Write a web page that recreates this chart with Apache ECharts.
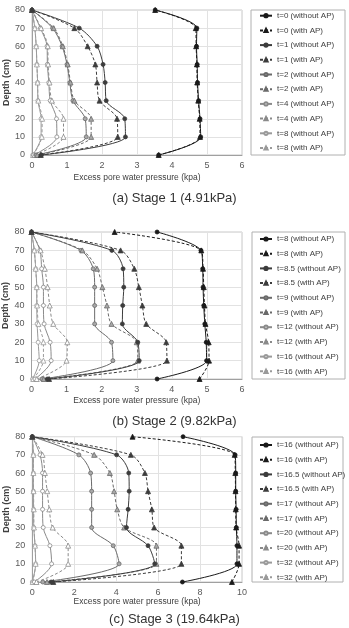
<!DOCTYPE html>
<html><head><meta charset="utf-8">
<script src="https://cdn.jsdelivr.net/npm/echarts@6/dist/echarts.min.js"></script>
<style>html,body{margin:0;padding:0;background:#fff}#c{width:349px;height:628px}</style>
</head><body><div id="c"></div>
<script>
// Depth (cm) of every measured point
const depths = [0, 10, 20, 30, 40, 50, 60, 70, 80];

// Stage 1 (4.91 kPa) – excess pore water pressure (kPa), depth 0..80
const s1Names = ['t=0 (without AP)','t=0 (with AP)','t=1 (without AP)','t=1 (with AP)','t=2 (without AP)','t=2 (with AP)','t=4 (without AP)','t=4 (with AP)','t=8 (without AP)','t=8 (with AP)'];
const s1_t0_wo = [3.62, 4.82, 4.80, 4.76, 4.73, 4.72, 4.70, 4.71, 3.52];
const s1_t0_w  = [3.62, 4.80, 4.79, 4.75, 4.72, 4.71, 4.69, 4.68, 3.52];
const s1_t1_wo = [0.27, 2.67, 2.65, 2.12, 2.09, 2.03, 1.86, 1.35, 0];
const s1_t1_w  = [0.25, 2.45, 2.43, 1.93, 1.86, 1.81, 1.59, 1.21, 0];
const s1_t2_wo = [0.12, 1.55, 1.52, 1.17, 1.08, 1.00, 0.86, 0.59, 0];
const s1_t2_w  = [0.15, 1.69, 1.69, 1.21, 1.10, 1.02, 0.88, 0.62, 0];
const s1_t4_wo = [0.05, 0.71, 0.70, 0.52, 0.48, 0.44, 0.43, 0.24, 0];
const s1_t4_w  = [0.08, 0.90, 0.90, 0.57, 0.50, 0.46, 0.45, 0.26, 0];
const s1_t8_wo = [0.02, 0.26, 0.26, 0.17, 0.16, 0.14, 0.12, 0.08, 0];
const s1_t8_w  = [0.03, 0.28, 0.29, 0.18, 0.16, 0.14, 0.12, 0.08, 0];

// Stage 2 (9.82 kPa)
const s2Names = ['t=8 (without AP)','t=8 (with AP)','t=8.5 (without AP)','t=8.5 (with AP)','t=9 (without AP)','t=9 (with AP)','t=12 (without AP)','t=12 (with AP)','t=16 (without AP)','t=16 (with AP)'];
const s2_t8_wo  = [3.58, 4.99, 4.98, 4.94, 4.91, 4.89, 4.88, 4.83, 3.58];
const s2_t8_w   = [4.79, 5.06, 5.05, 4.96, 4.93, 4.91, 4.89, 4.84, 2.37];
const s2_t85_wo = [0.45, 3.07, 3.03, 2.59, 2.60, 2.63, 2.61, 2.29, 0];
const s2_t85_w  = [0.50, 3.86, 3.84, 3.27, 3.16, 3.06, 2.93, 2.54, 0];
const s2_t9_wo  = [0.30, 2.32, 2.28, 1.80, 1.80, 1.80, 1.76, 1.41, 0];
const s2_t9_w   = [0.35, 3.03, 3.00, 2.28, 2.15, 2.02, 1.87, 1.45, 0];
const s2_t12_wo = [0.10, 0.56, 0.53, 0.36, 0.34, 0.34, 0.29, 0.24, 0];
const s2_t12_w  = [0.15, 1.00, 1.02, 0.62, 0.52, 0.46, 0.38, 0.26, 0];
const s2_t16_wo = [0.03, 0.22, 0.19, 0.16, 0.15, 0.15, 0.12, 0.08, 0];
const s2_t16_w  = [0.05, 0.34, 0.34, 0.20, 0.16, 0.15, 0.12, 0.08, 0];

// Stage 3 (19.64 kPa)
const s3Names = ['t=16 (without AP)','t=16 (with AP)','t=16.5 (without AP)','t=16.5 (with AP)','t=17 (without AP)','t=17 (with AP)','t=20 (without AP)','t=20 (with AP)','t=32 (without AP)','t=32 (with AP)'];
const s3_t16_wo  = [7.16, 9.76, 9.76, 9.73, 9.72, 9.70, 9.70, 9.67, 7.19];
const s3_t16_w   = [9.52, 9.86, 9.86, 9.72, 9.70, 9.69, 9.68, 9.65, 4.78];
const s3_t165_wo = [0.90, 5.84, 5.52, 4.49, 4.57, 4.62, 4.60, 4.02, 0];
const s3_t165_w  = [1.00, 7.11, 7.11, 5.81, 5.70, 5.52, 5.37, 4.70, 0];
const s3_t17_wo  = [0.50, 4.14, 3.86, 2.83, 2.83, 2.83, 2.78, 2.22, 0];
const s3_t17_w   = [0.70, 5.92, 5.92, 4.38, 4.05, 3.90, 3.70, 2.95, 0];
const s3_t20_wo  = [0.10, 0.92, 0.84, 0.52, 0.49, 0.49, 0.49, 0.37, 0];
const s3_t20_w   = [0.20, 1.71, 1.71, 0.97, 0.81, 0.71, 0.60, 0.49, 0];
const s3_t32_wo  = [0.00, 0.16, 0.13, 0.07, 0.06, 0.05, 0.05, 0.05, 0];
const s3_t32_w   = [0.02, 0.16, 0.13, 0.08, 0.07, 0.06, 0.05, 0.05, 0];

const captions = ['(a) Stage 1 (4.91kPa)', '(b) Stage 2 (9.82kPa)', '(c) Stage 3 (19.64kPa)'];
const xMax = [6, 6, 10];
const xStep = [1, 1, 2];

const stages = [
  {names: s1Names, vals: [s1_t0_wo, s1_t0_w, s1_t1_wo, s1_t1_w, s1_t2_wo, s1_t2_w, s1_t4_wo, s1_t4_w, s1_t8_wo, s1_t8_w]},
  {names: s2Names, vals: [s2_t8_wo, s2_t8_w, s2_t85_wo, s2_t85_w, s2_t9_wo, s2_t9_w, s2_t12_wo, s2_t12_w, s2_t16_wo, s2_t16_w]},
  {names: s3Names, vals: [s3_t16_wo, s3_t16_w, s3_t165_wo, s3_t165_w, s3_t17_wo, s3_t17_w, s3_t20_wo, s3_t20_w, s3_t32_wo, s3_t32_w]}
];

// layout
const grids = [
  {left: 32, top: 10, width: 210, height: 145},
  {left: 31.5, top: 232, width: 210.5, height: 147},
  {left: 32.3, top: 436.7, width: 209.7, height: 145.3}
];
const legBoxes = [[251, 10, 94, 145], [252, 232, 93, 147], [252, 437, 91, 145]];
const legTops = [10.7, 234, 440];
const capTops = [190, 413, 611];
const xNameGaps = [18, 17.5, 15.5];

const lineColors = ['#1a1a1a', '#3c3c3c', '#6a6a6a', '#8a8a8a', '#9a9a9a'];
const fills = ['#1a1a1a', '#3c3c3c', '#a8a8a8', '#ffffff', '#ffffff'];
const FONT = 'Liberation Sans, Arial, sans-serif';

const option = {
  animation: false,
  backgroundColor: '#fff',
  title: captions.map((t, i) => ({
    text: t, left: 'center', top: capTops[i], padding: 0,
    textStyle: {fontSize: 13, fontWeight: 'normal', color: '#333', fontFamily: FONT, lineHeight: 16}
  })),
  grid: grids.map(g => Object.assign({show: true, borderColor: '#c8c8c8', borderWidth: 1, containLabel: false, outerBoundsMode: 'none'}, g)),
  xAxis: grids.map((g, i) => ({
    gridIndex: i, type: 'value', min: 0, max: xMax[i], interval: xStep[i],
    name: 'Excess pore water pressure (kpa)', nameLocation: 'middle', nameGap: xNameGaps[i], nameMoveOverlap: false,
    nameTextStyle: {fontSize: 8.5, color: '#404040', fontFamily: FONT},
    axisLine: {show: true, lineStyle: {color: '#a0a0a0'}},
    axisTick: {show: false},
    axisLabel: {fontSize: 9, color: '#595959', margin: 6, fontFamily: FONT},
    splitLine: {show: true, lineStyle: {color: '#e2e2e2'}}
  })),
  yAxis: grids.map((g, i) => ({
    gridIndex: i, type: 'value', min: 0, max: 80, interval: 10,
    name: 'Depth (cm)', nameLocation: 'middle', nameGap: 21, nameRotate: 90, nameMoveOverlap: false,
    nameTextStyle: {fontSize: 9, color: '#404040', fontWeight: 'bold', fontFamily: FONT},
    axisLine: {show: true, lineStyle: {color: '#a0a0a0'}},
    axisTick: {show: false},
    axisLabel: {fontSize: 9, color: '#595959', margin: 7, fontFamily: FONT},
    splitLine: {show: true, lineStyle: {color: '#e2e2e2'}}
  })),
  legend: stages.map((st, i) => ({
    orient: 'vertical', left: 259, top: legTops[i], padding: 0,
    itemWidth: 12, itemHeight: 4, itemGap: 4.7,
    data: st.names.map(n => i + '|' + n),
    formatter: n => n.split('|')[1],
    textStyle: {fontSize: 8, lineHeight: 10, color: '#404040', fontFamily: FONT},
    selectedMode: false
  })),
  graphic: legBoxes.map(b => ({
    type: 'rect', shape: {x: b[0], y: b[1], width: b[2], height: b[3]},
    style: {fill: 'none', stroke: '#b0b0b0', lineWidth: 1}, silent: true, z: -1
  })),
  series: []
};

stages.forEach((st, i) => {
  st.vals.forEach((v, k) => {
    const p = Math.floor(k / 2), w = k % 2 === 1;
    option.series.push({
      type: 'line', name: i + '|' + st.names[k], xAxisIndex: i, yAxisIndex: i,
      data: depths.map((d, j) => [v[j], d]),
      smooth: 0.3,
      symbol: w ? 'triangle' : 'circle', symbolSize: w ? 5 : 4,
      itemStyle: {color: fills[p], borderColor: lineColors[p], borderWidth: 0.8},
      lineStyle: {color: lineColors[p], width: 1, type: w ? [3, 2] : 'solid'},
      z: 10 - p
    });
  });
});

echarts.init(document.getElementById('c'), null, {renderer: 'canvas'}).setOption(option);
</script></body></html>
